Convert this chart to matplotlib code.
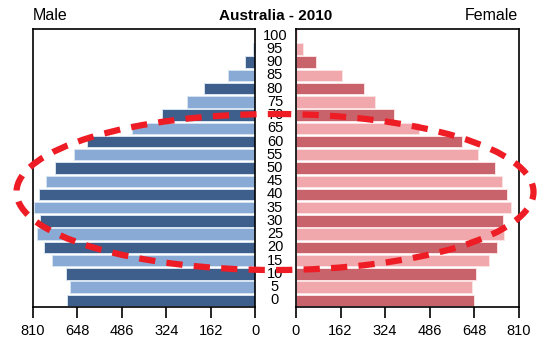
import numpy as np
import matplotlib
matplotlib.use("Agg")
import matplotlib.pyplot as plt
from matplotlib.patches import Ellipse

ages = ["0", "5", "10", "15", "20", "25", "30", "35", "40", "45", "50",
        "55", "60", "65", "70", "75", "80", "85", "90", "95", "100"]
male = [685, 675, 691, 742, 770, 794, 784, 806, 788, 763, 730,
        660, 612, 450, 340, 247, 186, 97, 36, 6, 1]
female = [648, 640, 657, 704, 731, 758, 752, 784, 767, 749, 724,
          663, 606, 447, 356, 287, 249, 168, 74, 25, 2]
xticks = [0, 162, 324, 486, 648, 810]
title = "Australia - 2010"

maleColors = ["#3e5f8b", "#89aad4"]
femaleColors = ["#c8636b", "#f1a8ac"]

plt.rcParams["font.family"] = ["Liberation Sans", "DejaVu Sans"]

fig = plt.figure(figsize=(5.5, 3.52), dpi=100)
axL = fig.add_axes([33/550, 45/352, 222/550, 278/352])
axR = fig.add_axes([296/550, 45/352, 222.5/550, 278/352])

y = np.arange(len(ages))
axL.barh(y, male, height=0.86, left=0,
         color=[maleColors[i % 2] for i in y], edgecolor="#d6e4f2", linewidth=0.7)
axR.barh(y, female, height=0.86,
         color=[femaleColors[i % 2] for i in y], edgecolor="#fbe2e3", linewidth=0.7)

for ax in (axL, axR):
    ax.set_xlim(0, 810)
    ax.set_ylim(-0.5, len(ages) - 0.5)
    ax.set_yticks([])
    ax.set_xticks(xticks)
    ax.set_xticklabels([str(t) for t in xticks], fontsize=10.5)
    ax.tick_params(axis="x", direction="out", length=8, width=1.2, pad=4)
    for s in ax.spines.values():
        s.set_linewidth(1.2)
axL.invert_xaxis()

for i, a in enumerate(ages):
    axL.text(1.09, (i + 0.5) / len(ages), a, transform=axL.transAxes,
             ha="center", va="center", fontsize=10.5)

fig.text(33/550, 1 - 16/352, "Male", ha="left", va="center", fontsize=11.5)
fig.text(518/550, 1 - 16/352, "Female", ha="right", va="center", fontsize=11.5)
fig.text(276/550, 1 - 16/352, title, ha="center", va="center", fontsize=11, fontweight="bold")

# red dashed ellipse over the middle ages
ov = fig.add_axes([0, 0, 1, 1], facecolor="none")
ov.set_xlim(0, 550)
ov.set_ylim(352, 0)
ov.axis("off")
ov.add_patch(Ellipse((275, 192), 517, 156, fill=False, edgecolor="#ee1c25",
                     linewidth=4.5, linestyle=(0, (2.6, 1.8))))

plt.savefig("out.png", dpi=100)
